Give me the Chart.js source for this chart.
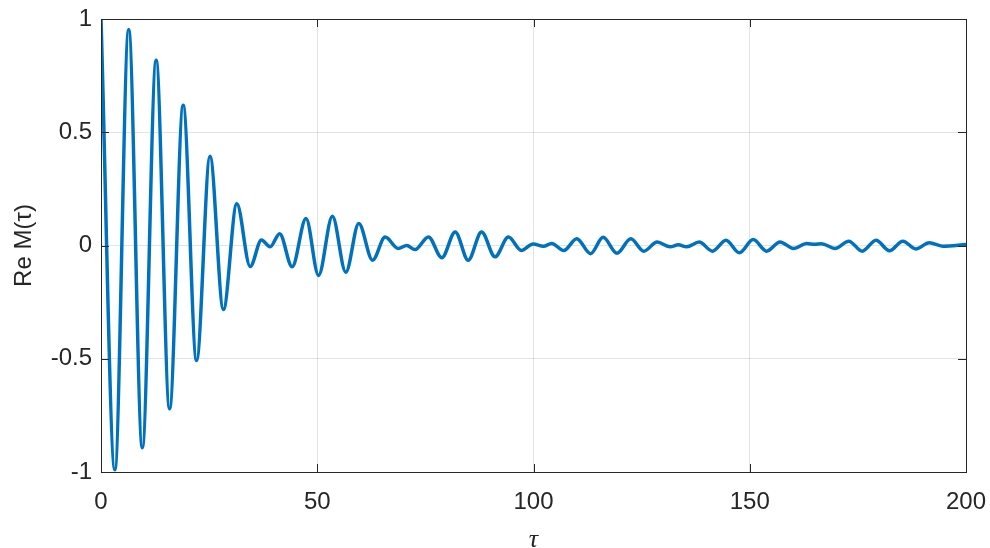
<!DOCTYPE html>
<html>
<head>
<meta charset="utf-8">
<title>Re M(tau)</title>
<script src="https://cdn.jsdelivr.net/npm/chart.js@4/dist/chart.umd.min.js"></script>
<style>
  html, body { margin: 0; padding: 0; background: #fff; }
  #wrap { width: 990px; height: 548px; }
</style>
</head>
<body>
<div id="wrap"><canvas id="chartM"></canvas></div>
<script>
// extrema
const tau = [0, 3.2, 6.4, 9.55, 12.75, 15.85, 19.0, 22.1, 25.2, 28.3,
    31.4, 34.5, 37.1, 39.1, 41.3, 44.2, 47.4, 50.3, 53.5, 56.6,
    59.6, 62.8, 65.7, 68.7, 70.7, 72.6, 75.7, 78.8, 81.9, 84.9,
    88.0, 91.1, 94.2, 97.2, 99.9, 102.3, 104.2, 107.0, 110.0, 113.2,
    116.1, 119.3, 122.5, 125.5, 128.6, 131.6, 133.5, 135.4, 138.3, 141.4,
    144.5, 147.6, 150.8, 153.9, 157.0, 160.1, 163.2, 165.0, 166.6, 169.7,
    172.9, 176.0, 179.2, 182.3, 185.4, 188.4, 191.5, 194.6, 200];
const reM = [1, -0.99, 0.954, -0.893, 0.818, -0.721, 0.619, -0.508, 0.394, -0.283,
    0.184, -0.093, 0.024, -0.006, 0.052, -0.094, 0.119, -0.132, 0.129, -0.118,
    0.097, -0.065, 0.037, -0.013, 0.0, -0.018, 0.038, -0.054, 0.060, -0.065,
    0.060, -0.050, 0.037, -0.022, 0.007, -0.003, 0.009, -0.022, 0.030, -0.036,
    0.036, -0.034, 0.030, -0.025, 0.015, -0.006, 0.003, -0.006, 0.015, -0.025,
    0.023, -0.032, 0.026, -0.025, 0.016, -0.013, 0.009, 0.005, 0.008, -0.013,
    0.019, -0.025, 0.023, -0.023, 0.019, -0.015, 0.012, -0.003, 0.004];
const xTicks = [0, 50, 100, 150, 200];
const yTicks = [-1, -0.5, 0, 0.5, 1];

const axisColor = '#262626';
const gridColor = 'rgba(38,38,38,0.13)';

// box round the axes plus small inward tick marks, matlab style
const boxPlugin = {
    id: 'box',
    afterDatasetsDraw(chart) {
        const { ctx, chartArea: a, scales } = chart;
        const tl = 8;
        ctx.save();
        ctx.strokeStyle = axisColor;
        ctx.lineWidth = 1;
        ctx.beginPath();
        xTicks.forEach(v => {
            const px = Math.round(scales.x.getPixelForValue(v)) + 0.5;
            ctx.moveTo(px, a.bottom); ctx.lineTo(px, a.bottom - tl);
            ctx.moveTo(px, a.top); ctx.lineTo(px, a.top + tl);
        });
        yTicks.forEach(v => {
            const py = Math.round(scales.y.getPixelForValue(v)) + 0.5;
            ctx.moveTo(a.left, py); ctx.lineTo(a.left + tl, py);
            ctx.moveTo(a.right, py); ctx.lineTo(a.right - tl, py);
        });
        ctx.stroke();
        ctx.strokeRect(Math.round(a.left) + 0.5, Math.round(a.top) + 0.5,
            Math.round(a.right - a.left), Math.round(a.bottom - a.top));
        ctx.restore();
    }
};

const ctx = document.getElementById('chartM').getContext('2d');
const chart = new Chart(ctx, {
    type: 'line',
    data: {
        datasets: [{
            data: tau.map((t, i) => ({ x: t, y: reM[i] })),
            borderColor: '#0072BD',
            borderWidth: 3.5,
            pointRadius: 0,
            cubicInterpolationMode: 'monotone',
            fill: false
        }]
    },
    options: {
        responsive: true,
        maintainAspectRatio: false,
        animation: false,
        layout: { padding: { top: 19, right: 24, left: 0, bottom: 0 } },
        plugins: { legend: { display: false }, tooltip: { enabled: false } },
        scales: {
            x: {
                type: 'linear',
                min: 0, max: 200,
                afterFit(s) { s.height = 76; s.paddingLeft = 0; s.paddingRight = 0; },
                afterBuildTicks(s) { s.ticks = xTicks.map(v => ({ value: v })); },
                border: { display: false },
                grid: { color: gridColor, drawTicks: false },
                ticks: {
                    padding: 16,
                    color: axisColor,
                    font: { family: 'Liberation Sans, Arial', size: 24 },
                    maxRotation: 0
                },
                title: {
                    display: true,
                    text: 'τ',
                    color: axisColor,
                    font: { family: 'Liberation Serif', size: 26, style: 'italic' },
                    padding: { top: 0, bottom: -8 }
                }
            },
            y: {
                min: -1, max: 1,
                afterFit(s) { s.width = 101; s.paddingTop = 0; s.paddingBottom = 0; },
                afterBuildTicks(s) { s.ticks = yTicks.map(v => ({ value: v })); },
                border: { display: false },
                grid: { color: gridColor, drawTicks: false },
                ticks: {
                    padding: 9,
                    color: axisColor,
                    font: { family: 'Liberation Sans, Arial', size: 24 },
                    callback: v => String(v)
                },
                title: {
                    display: true,
                    text: 'Re M(τ)',
                    color: axisColor,
                    font: { family: 'Liberation Sans, Arial', size: 24 },
                    padding: { top: 10, bottom: 0 }
                }
            }
        }
    },
    plugins: [boxPlugin]
});
</script>
</body>
</html>
